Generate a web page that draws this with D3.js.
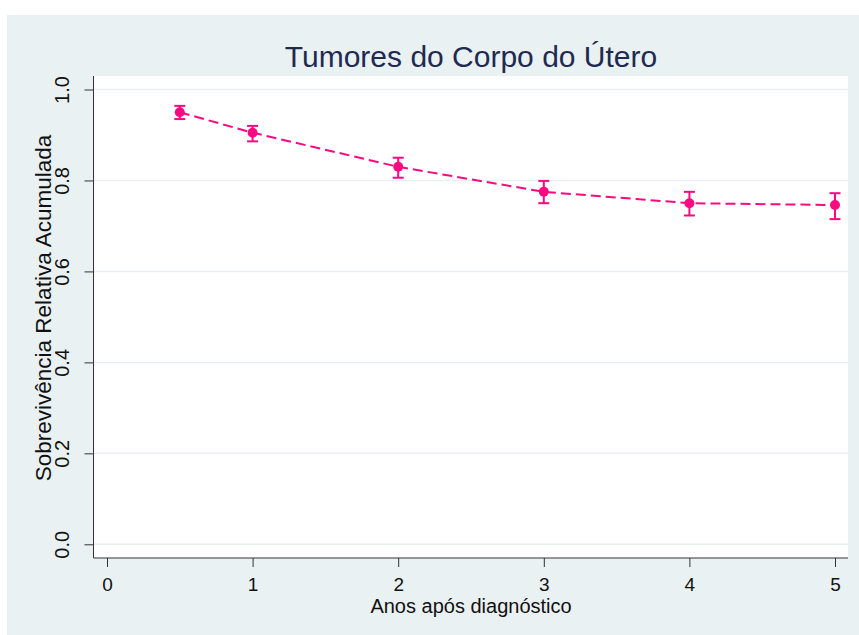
<!DOCTYPE html>
<html><head><meta charset="utf-8">
<script src="https://cdn.jsdelivr.net/npm/d3@7"></script>
<style>body{margin:0;background:#fff}svg{display:block}text{font-family:"Liberation Sans",Arial,sans-serif}</style>
</head><body>
<script>
const years = [0.5, 1, 2, 3, 4, 5];
const survival = [0.950, 0.905, 0.830, 0.775, 0.750, 0.746];
const lower = [0.935, 0.886, 0.806, 0.750, 0.723, 0.715];
const upper = [0.964, 0.920, 0.850, 0.799, 0.775, 0.772];
const xTicks = [0, 1, 2, 3, 4, 5];
const yTicks = [0, 0.2, 0.4, 0.6, 0.8, 1.0];
const title = "Tumores do Corpo do Útero";
const xTitle = "Anos após diagnóstico";
const yTitle = "Sobrevivência Relativa Acumulada";

const W = 859, H = 635;
const pink = "#fa0a80", bg = "#eaf1f3", navy = "#1e2a50";
const svg = d3.select("body").append("svg").attr("width", W).attr("height", H);
svg.append("rect").attr("x", 7).attr("y", 15).attr("width", W - 7).attr("height", H - 15).attr("fill", bg);

const pr = {l: 93.5, r: 848, t: 76, b: 558};
svg.append("rect").attr("x", pr.l).attr("y", pr.t).attr("width", pr.r - pr.l).attr("height", pr.b - pr.t).attr("fill", "#fff");

const x = d3.scaleLinear().domain([0, 5]).range([107, 835]);
const y = d3.scaleLinear().domain([0, 1]).range([544.3, 89.5]);

// gridlines
svg.append("g").selectAll("line").data(yTicks).join("line")
  .attr("x1", pr.l).attr("x2", pr.r).attr("y1", d => y(d)).attr("y2", d => y(d))
  .attr("stroke", "#e8eff1").attr("stroke-width", 1.5);

// y axis
const yAxis = d3.axisLeft(y).tickValues(yTicks).tickFormat(d3.format(".1f")).tickSize(9).tickPadding(15);
const gy = svg.append("g").attr("transform", `translate(${pr.l},0)`).call(yAxis);
gy.select(".domain").remove();
gy.selectAll(".tick line").attr("stroke", "#333").attr("stroke-width", 1);
gy.selectAll(".tick text").attr("font-size", 20).attr("fill", "#111")
  .attr("text-anchor", "middle").attr("dy", null)
  .attr("transform", "rotate(-90)")
  .attr("x", 0).attr("y", -25);
svg.append("line").attr("x1", pr.l).attr("x2", pr.l).attr("y1", pr.t).attr("y2", pr.b).attr("stroke", "#333").attr("stroke-width", 1);

// x axis
const xAxis = d3.axisBottom(x).tickValues(xTicks).tickFormat(d3.format("d")).tickSize(9).tickPadding(8);
const gx = svg.append("g").attr("transform", `translate(0,${pr.b})`).call(xAxis);
gx.select(".domain").remove();
gx.selectAll(".tick line").attr("stroke", "#333").attr("stroke-width", 1);
gx.selectAll(".tick text").attr("font-size", 19).attr("fill", "#111").attr("dy", null).attr("y", 32.5);
svg.append("line").attr("x1", pr.l).attr("x2", pr.r).attr("y1", pr.b).attr("y2", pr.b).attr("stroke", "#333").attr("stroke-width", 1);

// titles
svg.append("text").attr("x", 471).attr("y", 66.5).attr("text-anchor", "middle")
  .attr("font-size", 30).attr("fill", navy).text(title);
svg.append("text").attr("x", 471).attr("y", 613).attr("text-anchor", "middle")
  .attr("font-size", 20).attr("fill", "#111").text(xTitle);
svg.append("text").attr("transform", "translate(50.5,308) rotate(-90)").attr("text-anchor", "middle")
  .attr("font-size", 22.5).attr("fill", "#111").text(yTitle);

// data
const data = years.map((t, i) => ({t, s: survival[i], lo: lower[i], hi: upper[i]}));
svg.append("path").datum(data)
  .attr("d", d3.line().x(d => x(d.t)).y(d => y(d.s)))
  .attr("fill", "none").attr("stroke", pink).attr("stroke-width", 2).attr("stroke-dasharray", "10,5");
const eb = svg.append("g").attr("stroke", pink).attr("stroke-width", 2);
eb.selectAll(".v").data(data).join("line").attr("x1", d => x(d.t)).attr("x2", d => x(d.t))
  .attr("y1", d => y(d.lo)).attr("y2", d => y(d.hi));
eb.selectAll(".ct").data(data).join("line").attr("x1", d => x(d.t) - 5.5).attr("x2", d => x(d.t) + 5.5)
  .attr("y1", d => y(d.hi)).attr("y2", d => y(d.hi));
eb.selectAll(".cb").data(data).join("line").attr("x1", d => x(d.t) - 5.5).attr("x2", d => x(d.t) + 5.5)
  .attr("y1", d => y(d.lo)).attr("y2", d => y(d.lo));
svg.append("g").selectAll("circle").data(data).join("circle")
  .attr("cx", d => x(d.t)).attr("cy", d => y(d.s)).attr("r", 5).attr("fill", pink);
</script>
</body></html>
